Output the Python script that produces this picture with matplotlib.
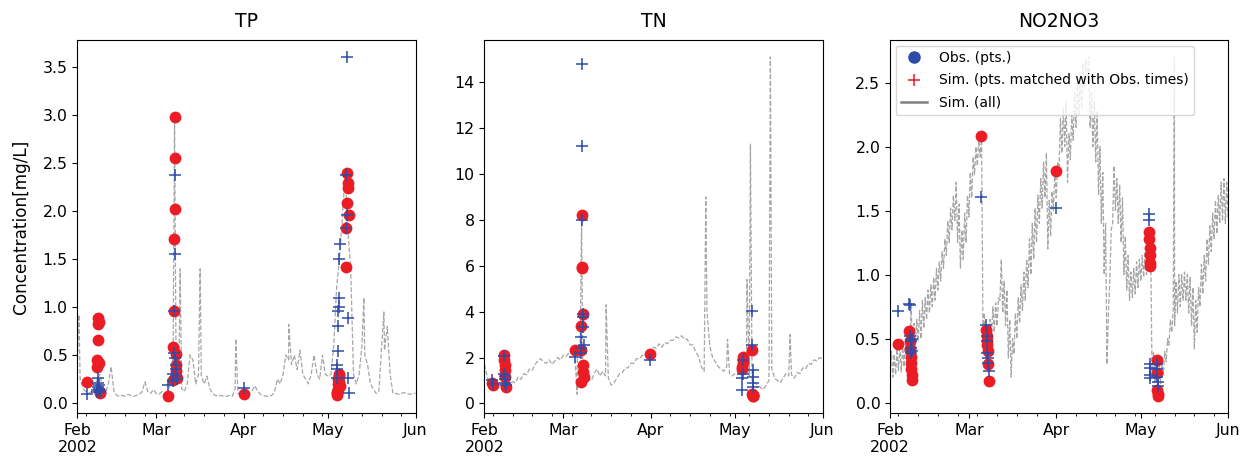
import numpy as np
import pandas as pd
import matplotlib
matplotlib.use("Agg")
import matplotlib.pyplot as plt
import matplotlib.dates as mdates
from matplotlib.lines import Line2D
from matplotlib.ticker import FuncFormatter

RED = "#ec1c24"
BLUE = "#2d4ba8"
START, END = "2002-02-01", "2002-06-01"

# ---------------- TP ----------------
tp_times = ["2002-02-04 14:00",
            "2002-02-08 00:00", "2002-02-08 03:00", "2002-02-08 06:00", "2002-02-08 09:00",
            "2002-02-08 12:00", "2002-02-08 15:00", "2002-02-08 18:00", "2002-02-08 21:00",
            "2002-02-09 00:00",
            "2002-03-05 07:00",
            "2002-03-07 00:00", "2002-03-07 03:00", "2002-03-07 06:00", "2002-03-07 09:00",
            "2002-03-07 12:00", "2002-03-07 15:00", "2002-03-07 18:00", "2002-03-07 21:00",
            "2002-03-08 00:00", "2002-03-08 03:00", "2002-03-08 06:00",
            "2002-04-01 02:00",
            "2002-05-04 00:00", "2002-05-04 03:00", "2002-05-04 06:00", "2002-05-04 09:00",
            "2002-05-04 12:00", "2002-05-04 15:00", "2002-05-04 18:00", "2002-05-04 21:00",
            "2002-05-05 00:00", "2002-05-05 03:00",
            "2002-05-07 06:00", "2002-05-07 10:00", "2002-05-07 14:00", "2002-05-07 18:00",
            "2002-05-07 22:00", "2002-05-08 02:00", "2002-05-08 06:00"]
tp_obs = [0.22,
          0.38, 0.45, 0.66, 0.82, 0.89, 0.85, 0.42, 0.12, 0.10,
          0.07,
          0.24, 0.58, 0.96, 1.71, 2.56, 2.98, 2.02, 0.51, 0.40, 0.33, 0.26,
          0.09,
          0.10, 0.08, 0.12, 0.15, 0.20, 0.25, 0.30, 0.28, 0.22, 0.18,
          1.42, 1.83, 2.09, 2.40, 2.29, 2.24, 1.96]
tp_sim_pts = [0.09,
              0.12, 0.14, 0.17, 0.21, 0.26, 0.19, 0.15, 0.13, 0.12,
              0.19,
              0.23, 0.30, 0.52, 0.96, 1.55, 2.38, 0.47, 0.40, 0.35, 0.28, 0.25,
              0.16,
              0.26, 0.35, 0.40, 0.54, 0.80, 0.96, 1.10, 1.00, 1.50, 1.66,
              1.83, 2.38, 3.61, 1.96, 0.89, 0.26, 0.10]
# daily simulated values, Feb 1 .. Jun 1
tp_sim_daily = [0.45, 0.25, 0.15, 0.12, 0.10, 0.12, 0.15, 0.25, 0.30, 0.15,
                0.10, 0.20, 0.38, 0.12, 0.08, 0.07, 0.08, 0.07, 0.09, 0.08,
                0.07, 0.08, 0.09, 0.12, 0.22, 0.12, 0.10, 0.14, 0.10, 0.09,
                0.12, 0.08, 0.07, 0.20, 0.50, 0.60, 0.25, 0.15, 0.12, 0.20,
                0.50, 0.45, 0.20, 0.30, 0.28, 0.20, 0.28, 0.15, 0.10, 0.08,
                0.07, 0.08, 0.07, 0.07, 0.08, 0.07, 0.15, 0.10, 0.10, 0.12,
                0.15, 0.10, 0.13, 0.18, 0.12, 0.09, 0.08, 0.07, 0.07, 0.08,
                0.12, 0.25, 0.20, 0.30, 0.50, 0.45, 0.40, 0.50, 0.35, 0.55,
                0.30, 0.25, 0.20, 0.30, 0.50, 0.30, 0.25, 0.50, 0.30, 0.28,
                0.30, 0.60, 1.20, 1.50, 1.90, 2.40, 1.80, 1.40, 0.30, 0.20,
                0.30, 0.60, 0.50, 0.40, 0.20, 0.15, 0.10, 0.12, 0.60, 0.55,
                0.80, 0.30, 0.10, 0.10, 0.09, 0.10, 0.11, 0.10, 0.09, 0.10,
                0.10]
tp_spike_times = ["2002-02-01 14:00", "2002-03-07 12:00", "2002-03-09 12:00",
                  "2002-03-16 14:00", "2002-03-29 05:00", "2002-04-17 00:00",
                  "2002-05-13 16:00", "2002-05-20 19:00"]
tp_spike_vals = [0.92, 2.95, 1.40, 1.40, 0.67, 0.82, 1.10, 0.95]

# ---------------- TN ----------------
tn_times = ["2002-02-03 18:00", "2002-02-04 06:00",
            "2002-02-08 00:00", "2002-02-08 03:00", "2002-02-08 06:00", "2002-02-08 09:00",
            "2002-02-08 12:00", "2002-02-08 15:00",
            "2002-03-05 07:00",
            "2002-03-07 03:00", "2002-03-07 06:00", "2002-03-07 09:00", "2002-03-07 12:00",
            "2002-03-07 15:00", "2002-03-07 18:00", "2002-03-07 21:00", "2002-03-08 00:00",
            "2002-03-08 03:00", "2002-03-08 06:00",
            "2002-03-31 21:00",
            "2002-05-03 09:00", "2002-05-03 13:00", "2002-05-03 17:00", "2002-05-03 21:00",
            "2002-05-07 00:00", "2002-05-07 02:00", "2002-05-07 04:00", "2002-05-07 06:00",
            "2002-05-07 08:00", "2002-05-07 10:00"]
tn_obs = [0.87, 0.80,
          2.10, 1.88, 1.67, 1.45, 1.16, 0.72,
          2.32,
          0.94, 2.32, 3.38, 5.94, 8.23, 5.90, 3.91, 1.67, 1.38, 1.16,
          2.17,
          1.50, 1.59, 1.81, 2.03,
          2.32, 0.43, 0.35, 0.31, 0.32, 0.36]
tn_sim_pts = [1.01, 0.85,
              2.05, 1.30, 1.20, 1.05, 0.87, 0.80,
              2.03,
              2.20, 2.40, 2.90, 8.01, 14.8, 11.2, 3.91, 3.77, 3.33, 2.54,
              1.88,
              0.58, 1.09, 1.30, 1.88,
              4.03, 2.54, 1.45, 1.16, 0.87, 0.72]
tn_sim_daily = [1.70, 1.20, 0.80, 0.95, 0.85, 0.75, 0.90, 0.80, 1.00, 0.85,
                0.95, 0.90, 1.15, 1.05, 1.30, 1.25, 1.50, 1.45, 1.70, 1.85,
                1.95, 1.80, 1.75, 1.90, 1.70, 1.85, 2.00, 1.90, 2.10, 2.05,
                2.20, 2.30, 2.30, 2.00, 2.50, 1.00, 1.20, 1.05, 1.00, 1.30,
                1.50, 1.20, 1.40, 1.20, 1.10, 0.80, 0.90, 1.10, 1.30, 1.35,
                1.55, 1.55, 1.75, 1.75, 1.95, 1.95, 2.10, 2.05, 2.25, 2.20,
                2.45, 2.40, 2.60, 2.45, 2.65, 2.60, 2.75, 2.75, 2.90, 2.85,
                2.95, 2.80, 2.80, 2.55, 2.55, 2.25, 2.05, 1.60, 1.40, 4.00,
                2.50, 2.00, 1.80, 1.60, 1.50, 1.40, 1.60, 1.30, 1.20, 1.30,
                1.40, 1.60, 1.80, 1.50, 1.20, 1.00, 0.90, 0.80, 0.70, 0.60,
                0.80, 1.00, 1.50, 1.10, 1.00, 0.90, 1.10, 1.30, 1.20, 1.25,
                1.10, 1.35, 1.30, 1.55, 1.50, 1.75, 1.70, 1.90, 1.85, 2.00,
                1.95]
tn_spike_times = ["2002-03-05 22:00", "2002-03-07 12:00", "2002-03-16 05:00",
                  "2002-04-20 14:00", "2002-04-28 07:00", "2002-05-05 05:00",
                  "2002-05-06 10:00", "2002-05-13 12:00", "2002-05-20 12:00"]
tn_spike_vals = [0.40, 8.00, 4.30, 9.00, 2.80, 5.40, 11.3, 15.1, 3.00]

# ---------------- NO2NO3 ----------------
no3_times = ["2002-02-03 17:00",
             "2002-02-07 22:00", "2002-02-08 01:00", "2002-02-08 04:00", "2002-02-08 07:00",
             "2002-02-08 10:00", "2002-02-08 13:00", "2002-02-08 16:00", "2002-02-08 19:00",
             "2002-03-05 07:00",
             "2002-03-07 05:00", "2002-03-07 08:00", "2002-03-07 11:00", "2002-03-07 14:00",
             "2002-03-07 17:00", "2002-03-07 20:00", "2002-03-07 23:00",
             "2002-03-31 22:00",
             "2002-05-04 00:00", "2002-05-04 02:00", "2002-05-04 04:00", "2002-05-04 06:00",
             "2002-05-04 08:00", "2002-05-04 10:00",
             "2002-05-06 18:00", "2002-05-06 20:00", "2002-05-06 22:00", "2002-05-07 00:00",
             "2002-05-07 02:00"]
no3_obs = [0.46,
           0.56, 0.48, 0.42, 0.36, 0.31, 0.26, 0.22, 0.18,
           2.08,
           0.57, 0.52, 0.48, 0.45, 0.40, 0.30, 0.17,
           1.81,
           1.33, 1.28, 1.21, 1.15, 1.09, 1.07,
           0.33, 0.23, 0.10, 0.07, 0.05]
no3_sim_pts = [0.72,
               0.77, 0.76, 0.52, 0.48, 0.43, 0.39, 0.40, 0.50,
               1.61,
               0.61, 0.52, 0.48, 0.39, 0.35, 0.31, 0.25,
               1.52,
               1.47, 1.43, 0.30, 0.27, 0.22, 0.19,
               0.30, 0.26, 0.20, 0.16, 0.13]
# daily low (midnight) and high (midday) of the simulated series
no3_sim_lo = [0.22, 0.20, 0.22, 0.25, 0.24, 0.28, 0.30, 0.38, 0.40, 0.42,
              0.48, 0.50, 0.58, 0.65, 0.70, 0.75, 0.80, 0.88, 0.95, 1.05,
              1.15, 1.25, 1.35, 1.42, 1.25, 1.05, 1.12, 1.25, 1.45, 1.60,
              1.78, 1.85, 1.92, 0.55, 0.32, 0.40, 0.50, 0.55, 0.60, 0.80,
              0.70, 0.60, 0.35, 0.20, 0.38, 0.50, 0.62, 0.72, 0.80, 0.90,
              1.00, 1.12, 1.25, 1.40, 1.52, 1.60, 1.20, 1.30, 1.50, 1.60,
              1.85, 1.95, 2.00, 1.72, 1.90, 2.05, 2.15, 2.25, 2.30, 2.45,
              2.50, 2.15, 2.00, 1.88, 1.62, 1.40, 1.00, 0.30, 0.95, 1.40,
              1.50, 1.40, 1.25, 1.00, 0.88, 0.80, 0.82, 0.85, 0.90, 0.95,
              0.98, 1.00, 1.05, 0.20, 0.15, 0.15, 0.15, 0.22, 0.32, 0.45,
              0.55, 0.60, 0.70, 0.75, 0.80, 0.80, 0.70, 0.60, 0.42, 0.55,
              0.75, 0.85, 0.95, 1.08, 1.18, 1.28, 1.32, 1.40, 1.42, 1.40,
              1.45]
no3_sim_hi = [0.40, 0.38, 0.42, 0.45, 0.46, 0.50, 0.60, 0.78, 0.62, 0.65,
              0.72, 0.80, 0.82, 0.88, 0.92, 0.98, 1.05, 1.10, 1.18, 1.28,
              1.42, 1.52, 1.62, 1.72, 1.55, 1.35, 1.48, 1.62, 1.80, 1.92,
              2.00, 2.05, 2.08, 0.70, 0.60, 0.65, 0.75, 0.78, 0.82, 1.12,
              0.95, 0.88, 0.65, 0.50, 0.70, 0.82, 0.92, 1.02, 1.12, 1.28,
              1.40, 1.52, 1.62, 1.75, 1.88, 1.95, 1.58, 1.65, 1.80, 1.88,
              2.22, 2.30, 2.35, 2.10, 2.25, 2.42, 2.50, 2.58, 2.65, 2.68,
              2.70, 2.42, 2.35, 2.28, 2.00, 1.80, 1.40, 0.70, 1.35, 1.85,
              1.75, 1.70, 1.60, 1.30, 1.15, 1.02, 1.05, 1.10, 1.12, 1.15,
              1.18, 1.20, 1.22, 0.40, 0.35, 0.32, 0.30, 0.40, 0.50, 0.65,
              0.72, 0.95, 1.00, 1.00, 1.02, 1.00, 0.98, 0.90, 0.80, 0.90,
              1.08, 1.15, 1.28, 1.38, 1.48, 1.58, 1.62, 1.72, 1.75, 1.72,
              1.70]
no3_spike_times = ["2002-05-12 22:00"]
no3_spike_vals = [2.70]


def sim_series(times, vals, spike_t, spike_v):
    s = pd.Series(vals, index=pd.DatetimeIndex(times))
    s = pd.concat([s, pd.Series(spike_v, index=pd.to_datetime(spike_t))])
    return s.sort_index()


days = pd.date_range(START, END, freq="D")
halfdays = pd.date_range(START, pd.Timestamp(END) + pd.Timedelta(hours=12), freq="12h")
no3_line = [v for pair in zip(no3_sim_lo, no3_sim_hi) for v in pair]

panels = [
    ("TP", tp_times, tp_obs, tp_sim_pts,
     sim_series(days, tp_sim_daily, tp_spike_times, tp_spike_vals)),
    ("TN", tn_times, tn_obs, tn_sim_pts,
     sim_series(days, tn_sim_daily, tn_spike_times, tn_spike_vals)),
    ("NO2NO3", no3_times, no3_obs, no3_sim_pts,
     sim_series(halfdays, no3_line, no3_spike_times, no3_spike_vals)),
]

plt.rcParams["font.size"] = 11.3

fig = plt.figure(figsize=(12.47, 4.61), dpi=100)
lefts = [0.0620, 0.3884, 0.7137]


def month_label(x, pos):
    d = mdates.num2date(x)
    if d.month == 2:
        return d.strftime("%b\n%Y")
    return d.strftime("%b")


for i, (name, t, obs, simp, line) in enumerate(panels):
    ax = fig.add_axes([lefts[i], 0.1035, 0.2712, 0.8098])
    ax.plot(line.index, line.values, ls="--", color="grey", lw=0.9, alpha=0.7, zorder=1)
    tt = pd.to_datetime(t)
    ax.plot(tt, obs, "o", color=RED, ms=8.5, mec="none", zorder=2)
    ax.plot(tt, simp, "+", color=BLUE, ms=9, mew=1.1, zorder=3)
    ax.set_xlim(pd.Timestamp(START), pd.Timestamp(END))
    ax.xaxis.set_major_locator(mdates.MonthLocator())
    ax.xaxis.set_major_formatter(FuncFormatter(month_label))
    ax.xaxis.set_minor_locator(mdates.WeekdayLocator(byweekday=mdates.MO))
    ax.set_title(name, fontsize=13.5, pad=9)
    for lab in ax.get_xticklabels():
        lab.set_ha("center")
    if i == 0:
        ax.set_ylabel("Concentration[mg/L]", fontsize=12.2, labelpad=9)
    if name == "NO2NO3":
        handles = [Line2D([], [], marker="o", ls="none", color=BLUE, ms=8),
                   Line2D([], [], marker="+", ls="none", color=RED, ms=8, mew=1.1),
                   Line2D([], [], color="grey", lw=1.8)]
        ax.legend(handles, ["Obs. (pts.)", "Sim. (pts. matched with Obs. times)", "Sim. (all)"],
                  loc="upper left", fontsize=10, handlelength=1.9, labelspacing=0.6,
                  borderaxespad=0.4)

fig.savefig("out.png", dpi=100)
